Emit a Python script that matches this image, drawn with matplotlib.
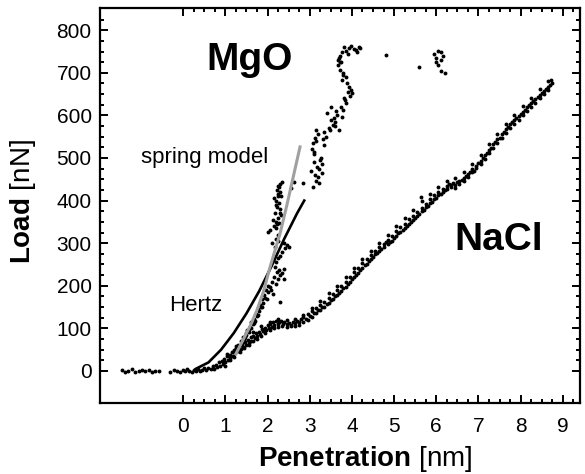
import numpy as np
import matplotlib
matplotlib.use("Agg")
import matplotlib.pyplot as plt
from matplotlib.ticker import FixedLocator

plt.rcParams['font.family'] = ['Liberation Sans', 'DejaVu Sans']
plt.rcParams['mathtext.fontset'] = 'custom'
plt.rcParams['mathtext.rm'] = 'Liberation Sans'
plt.rcParams['mathtext.bf'] = 'Liberation Sans:bold'

# NaCl load curve
nacl_x = [-1.45, -1.38, -1.3, -1.22, -1.15, -1.05, -0.98, -0.9, -0.82, -0.75, -0.66, -0.58,
          -0.3, -0.22, -0.15, -0.08, 0.0, 0.05, 0.1, 0.15, 0.2, 0.25, 0.3, 0.35, 0.4, 0.45,
          0.5, 0.55, 0.6, 0.65,
          0.7, 0.72, 0.78, 0.8, 0.85, 0.88, 0.92, 0.95, 0.98, 1.0, 1.03, 1.06, 1.1, 1.12,
          1.15, 1.18, 1.2, 1.23, 1.26, 1.3, 1.33, 1.36, 1.4, 1.42, 1.46, 1.5, 1.53, 1.56,
          1.6, 1.62, 1.66, 1.7, 1.73, 1.76, 1.8, 1.83, 1.86, 1.9, 1.93, 1.96, 2.0, 2.03,
          2.06, 2.1, 2.13, 2.16, 2.2, 2.24, 2.28, 2.32, 2.36, 2.4, 2.45, 2.5, 2.55, 2.6,
          2.65, 2.7, 2.75, 2.8, 2.85, 2.9, 2.95, 3.0, 3.05, 3.1, 3.15, 3.2, 3.25, 3.3,
          3.35, 3.4, 3.45, 3.5, 3.55, 3.6, 3.65, 3.7, 3.75, 3.8, 3.85, 3.9, 3.95, 4.0,
          4.05, 4.1, 4.15, 4.2, 4.25, 4.3, 4.35, 4.4, 4.45, 4.5, 4.55, 4.6, 4.65, 4.7,
          4.75, 4.8, 4.85, 4.9, 4.95, 5.0, 5.05, 5.1, 5.15, 5.2, 5.25, 5.3, 5.35, 5.4,
          5.45, 5.5, 5.55, 5.6, 5.65, 5.7, 5.75, 5.8, 5.85, 5.9, 5.95, 6.0, 6.05, 6.1,
          6.15, 6.2, 6.25, 6.3, 6.35, 6.4, 6.45, 6.5, 6.55, 6.6, 6.65, 6.7, 6.75, 6.8,
          6.85, 6.9, 6.95, 7.0, 7.05, 7.1, 7.15, 7.2, 7.25, 7.3, 7.35, 7.4, 7.45, 7.5,
          7.55, 7.6, 7.65, 7.7, 7.75, 7.8, 7.85, 7.9, 7.95, 8.0, 8.05, 8.1, 8.15, 8.2,
          8.25, 8.3, 8.35, 8.4, 8.45, 8.5, 8.55, 8.6, 8.65, 8.7, 8.75]
nacl_y = [2, -3, 1, 4, -2, 0, 3, -1, 2, -3, 1, 0,
          -2, 3, 0, -3, 2, -1, 4, 0, -2, 3, 1, 5, -1, 3,
          6, 2, 8, 4,
          12, 5, 15, 9, 20, 12, 24, 16, 28, 21, 35, 26, 38, 30,
          44, 36, 49, 41, 54, 47, 58, 51, 63, 56, 68, 61, 72, 66,
          79, 71, 83, 77, 88, 82, 92, 86, 99, 93, 102, 97, 107, 101,
          111, 104, 114, 108, 117, 111, 115, 118, 111, 114, 110, 113, 109, 115,
          112, 118, 114, 121, 126, 122, 133, 129, 141, 136, 148, 143, 155, 151,
          162, 158, 172, 166, 181, 176, 190, 184, 200, 195, 210, 205, 221, 215,
          232, 226, 242, 236, 254, 248, 262, 257, 273, 268, 281, 277, 291, 286,
          298, 303, 308, 302, 318, 313, 329, 324, 338, 332, 345, 341, 356, 350,
          364, 359, 374, 368, 383, 378, 392, 387, 403, 397, 412, 407, 420, 416,
          428, 424, 434, 438, 431, 441, 436, 443, 438, 448, 452, 458, 463, 467,
          474, 469, 482, 488, 494, 499, 506, 512, 519, 524, 532, 537, 544, 548,
          556, 561, 568, 572, 579, 584, 589, 593, 599, 603, 608, 613, 619, 624,
          629, 633, 639, 643, 648, 652, 658, 662, 667, 672, 676]

# lower and upper edges of the NaCl band
nacl_lo_x = [1.0, 1.1, 1.2, 1.35, 1.45, 1.55, 1.65, 1.75, 1.85, 1.95, 2.05, 2.15, 2.25,
             2.35, 2.45, 2.55, 2.65, 2.75, 2.85, 2.95, 3.05, 3.15, 3.25, 3.35, 3.45, 3.55,
             3.65, 3.75, 3.85, 3.95, 4.05, 4.15, 4.25, 4.35, 4.45, 4.55, 4.65, 4.75, 4.85,
             4.95, 5.05, 5.15, 5.25, 5.35, 5.45, 5.55, 5.65, 5.75, 5.85, 5.95, 6.05, 6.15,
             6.25, 6.35, 6.45, 6.55, 6.65, 6.75, 6.85, 6.95, 7.05, 7.15, 7.25, 7.35, 7.45,
             7.55, 7.65, 7.75, 7.85, 7.95, 8.05, 8.15, 8.25, 8.35, 8.45, 8.55, 8.65]
nacl_lo_y = [12, 26, 33, 45, 55, 60, 70, 76, 82, 90, 95, 100, 104,
             106, 104, 105, 106, 108, 115, 120, 127, 135, 144, 150, 160, 168,
             178, 188, 198, 208, 220, 231, 242, 252, 264, 274, 282, 290, 297,
             306, 318, 327, 336, 346, 355, 364, 375, 384, 395, 403, 413, 420,
             428, 436, 430, 445, 446, 456, 466, 476, 486, 498, 511, 523, 535,
             547, 559, 570, 580, 590, 600, 610, 620, 630, 640, 650, 660]
nacl_hi_x = [1.05, 1.25, 1.45, 1.65, 1.85, 2.05, 2.25, 2.45, 2.65, 2.85, 3.05, 3.25, 3.45,
             3.65, 3.85, 4.05, 4.25, 4.45, 4.65, 4.85, 5.05, 5.25, 5.45, 5.64, 5.65, 5.85,
             6.05, 6.25, 6.45, 6.65, 6.85, 7.05, 7.25, 7.45, 7.65, 7.85, 8.05, 8.25, 8.45,
             8.65, 8.72]
nacl_hi_y = [40, 58, 75, 92, 105, 115, 122, 120, 122, 132, 148, 165, 182,
             200, 220, 242, 262, 282, 300, 320, 340, 360, 378, 409, 398, 416,
             432, 446, 452, 466, 486, 506, 532, 556, 580, 602, 622, 642, 662,
             680, 684]

# MgO load curve
mgo_x = [1.2, 1.25, 1.3, 1.33, 1.36, 1.4, 1.42, 1.45, 1.48, 1.5, 1.52, 1.55, 1.58, 1.6,
         1.62, 1.65, 1.68, 1.7, 1.72, 1.75, 1.77, 1.8, 1.82, 1.85, 1.87, 1.9, 1.92, 1.95,
         1.97, 2.0, 2.02, 2.05,
         2.1, 2.15, 2.2, 2.25, 2.3, 2.28, 2.22, 2.18, 2.3, 2.12, 2.08, 2.35, 2.38, 2.4,
         2.2, 2.25, 2.3, 2.35, 2.42, 2.45, 2.5, 2.38, 2.2, 2.1,
         2.05, 2.0, 2.15, 2.2, 2.25, 2.18, 2.22, 2.28, 2.2, 2.25, 2.3, 2.22, 2.27, 2.3,
         2.35, 2.24, 2.3, 2.33, 2.12, 2.27, 2.62, 2.85, 2.55,
         3.07, 3.23, 3.2, 3.28, 3.22, 3.3, 3.25, 3.11, 3.05, 3.07, 3.12, 3.16, 3.2, 3.39,
         3.35, 3.45, 3.54, 3.5, 3.6, 3.7, 3.65, 3.77, 3.8, 3.87, 3.82, 3.95, 4.01, 3.94,
         3.88, 3.77, 3.8, 3.72, 3.68, 3.66, 3.72, 3.77, 3.85, 3.94, 4.05, 4.1, 4.17, 4.2,
         3.9, 3.75, 3.6, 3.02, 3.15, 3.1, 3.35, 3.5, 3.42,
         4.8, 5.6, 5.95, 6.0, 6.05, 6.1, 6.15, 6.0, 6.05, 6.1, 6.2, 6.12]
mgo_y = [45, 52, 60, 55, 70, 66, 80, 75, 88, 84, 96, 92, 104, 100,
         115, 110, 122, 118, 134, 128, 145, 140, 156, 150, 168, 160, 178, 172,
         190, 185, 200, 196,
         210, 220, 205, 215, 225, 238, 232, 245, 162, 180, 190, 230, 215, 240,
         255, 265, 270, 280, 288, 296, 290, 300, 310, 300,
         330, 326, 340, 350, 360, 372, 385, 395, 400, 410, 420, 425, 432, 440,
         444, 415, 380, 365, 355, 348, 444, 441, 430,
         432, 441, 455, 465, 475, 485, 495, 509, 520, 535, 548, 566, 556, 549,
         560, 570, 578, 590, 585, 566, 600, 596, 612, 629, 640, 645, 653, 667,
         675, 683, 695, 707, 718, 730, 740, 749, 752, 758, 756, 754, 761, 758,
         745, 725, 575, 470, 445, 490, 530, 620, 605,
         742, 714, 745, 735, 752, 748, 740, 725, 718, 705, 700, 730]

# extra MgO scatter that thickens the steep parts
mgo2_x = [1.38, 1.47, 1.57, 1.67, 1.78, 1.88, 1.99, 2.14, 2.17, 2.24, 2.26, 2.19, 2.23,
          2.29, 2.21, 2.16, 2.32, 2.26, 3.13, 3.18, 3.26, 3.09, 3.14, 3.32, 3.47, 3.58,
          3.63, 3.74, 3.84, 3.91, 3.98, 3.86, 3.79, 3.71, 3.7, 3.81, 3.99, 4.12]
mgo2_y = [62, 80, 98, 112, 132, 150, 170, 260, 290, 305, 320, 335, 345,
          370, 390, 405, 410, 435, 460, 480, 500, 515, 540, 545, 565, 595,
          610, 620, 635, 655, 660, 690, 700, 725, 735, 760, 762, 748]

# Hertz fit and spring model lines
hertz_x = [0.3, 0.6, 0.9, 1.2, 1.5, 1.8, 2.1, 2.4, 2.7, 2.87]
hertz_y = [5, 20, 50, 89, 135, 187, 247, 311, 370, 400]
spring_x = [1.25, 1.43, 1.6, 1.75, 1.9, 2.06, 2.3, 2.46, 2.77]
spring_y = [40, 75, 108, 143, 185, 244, 324, 390, 526]

fig = plt.figure(figsize=(5.85, 4.74), dpi=100)
ax = fig.add_axes([0.171, 0.150, 0.820, 0.833])

dot = dict(ls='none', marker='o', ms=2.8, color='black', mec='none')
ax.plot(nacl_x, nacl_y, **dot)
ax.plot(nacl_lo_x, nacl_lo_y, **dot)
ax.plot(nacl_hi_x, nacl_hi_y, **dot)
ax.plot(mgo_x, mgo_y, **dot)
ax.plot(mgo2_x, mgo2_y, **dot)

ax.plot(hertz_x, hertz_y, color='black', lw=1.9)
ax.plot(spring_x, spring_y, color='#a0a0a0', lw=2.2)

ax.text(1.58, 730, 'MgO', fontsize=28, fontweight='bold', ha='center', va='center')
ax.text(7.48, 307, 'NaCl', fontsize=28, fontweight='bold', ha='center', va='center')
ax.text(-1.01, 500, 'spring model', fontsize=16, ha='left', va='center')
ax.text(-0.33, 153, 'Hertz', fontsize=16, ha='left', va='center')

ax.set_xlim(-1.97, 9.4)
ax.set_ylim(-75, 852)

ax.xaxis.set_major_locator(FixedLocator(np.arange(0, 10)))
ax.xaxis.set_minor_locator(FixedLocator(np.arange(0, 9.3, 0.25)))
ax.yaxis.set_major_locator(FixedLocator(np.arange(0, 900, 100)))
ax.yaxis.set_minor_locator(FixedLocator(np.arange(0, 850, 25)))
ax.tick_params(which='both', direction='in', top=True, right=True, width=1.4,
               labelsize=15)
ax.tick_params(which='major', length=6)
ax.tick_params(which='minor', length=3)
ax.tick_params(axis='x', pad=10)
ax.tick_params(axis='y', pad=6)
for s in ax.spines.values():
    s.set_linewidth(1.6)

ax.set_xlabel(r'$\mathbf{Penetration}$ [nm]', fontsize=20)
ax.set_ylabel(r'$\mathbf{Load}$ [nN]', fontsize=20)
ax.xaxis.set_label_coords(0.552, -0.105)
ax.yaxis.set_label_coords(-0.13, 0.511)

fig.savefig('out.png', dpi=100)
